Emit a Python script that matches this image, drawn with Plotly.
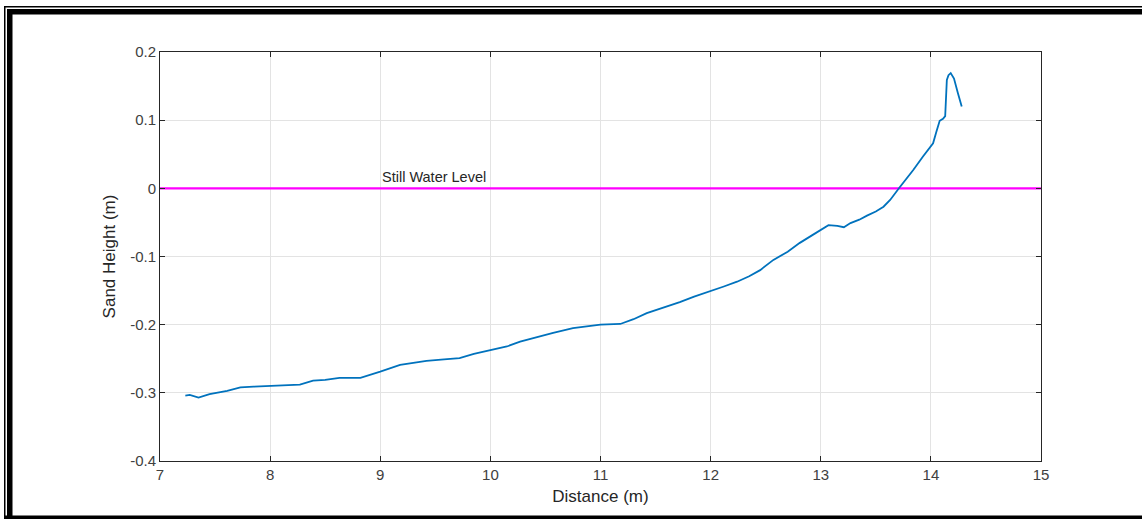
import plotly.graph_objects as go

# Profile data
distance_m = [7.23, 7.27, 7.35, 7.45, 7.61, 7.73, 7.85, 8.0, 8.15, 8.27, 8.39, 8.5, 8.63,
              8.82, 9.0, 9.18, 9.3, 9.42, 9.58, 9.72, 9.85, 10.0, 10.15, 10.27, 10.44,
              10.57, 10.75, 10.9, 11.0, 11.18, 11.3, 11.42, 11.58, 11.72, 11.85, 12.0,
              12.12, 12.24, 12.35, 12.45, 12.57, 12.7, 12.81, 12.92, 13.01, 13.07, 13.15,
              13.21, 13.27, 13.35, 13.42, 13.5, 13.57, 13.63, 13.71, 13.77, 13.84, 13.93,
              14.02, 14.05, 14.08, 14.11, 14.13, 14.145, 14.16, 14.18, 14.21, 14.245, 14.28]
sand_height_m = [-0.304, -0.303, -0.307, -0.302, -0.297, -0.292, -0.291, -0.290, -0.289,
                 -0.288, -0.282, -0.281, -0.278, -0.278, -0.269, -0.259, -0.256, -0.253,
                 -0.251, -0.249, -0.243, -0.238, -0.232, -0.225, -0.217, -0.212, -0.205,
                 -0.202, -0.200, -0.199, -0.192, -0.183, -0.175, -0.167, -0.159, -0.151,
                 -0.144, -0.137, -0.129, -0.120, -0.105, -0.093, -0.080, -0.069, -0.060,
                 -0.054, -0.055, -0.057, -0.051, -0.046, -0.040, -0.034, -0.027, -0.017,
                 0.000, 0.012, 0.027, 0.047, 0.066, 0.083, 0.099, 0.102, 0.106, 0.159,
                 0.166, 0.169, 0.161, 0.140, 0.120]

swl_x = [7, 15]
swl_y = [0, 0]

x_ticks = [7, 8, 9, 10, 11, 12, 13, 14, 15]
y_ticks = [-0.4, -0.3, -0.2, -0.1, 0, 0.1, 0.2]
y_tick_text = ["-0.4", "-0.3", "-0.2", "-0.1", "0", "0.1", "0.2"]

W, H = 1142, 519
L, R, T, B = 160, 1041, 52, 461

fig = go.Figure()
fig.add_trace(go.Scatter(x=swl_x, y=swl_y, mode="lines",
                         line=dict(color="#FF00FF", width=2.2), hoverinfo="skip"))
fig.add_trace(go.Scatter(x=distance_m, y=sand_height_m, mode="lines",
                         line=dict(color="#0072BD", width=1.8)))

fig.add_annotation(x=9.0, y=0.0163, text="Still Water Level", showarrow=False,
                   xanchor="left", yanchor="middle",
                   font=dict(family="Liberation Sans, Arial", size=14.5, color="#262626"))


def px_x(p):
    return (p - L) / (R - L)


def px_y(p):
    return (B - p) / (B - T)


border = [
    (4, 6, W, 7.5),      # thin top
    (7, 9, W, 14.5),     # thick top
    (4, 6, 5.5, H),      # thin left
    (7, 9, 12.5, H),     # thick left
    (4, 515.5, W, H),    # bottom
]
for x0, y0, x1, y1 in border:
    fig.add_shape(type="rect", xref="paper", yref="paper",
                  x0=px_x(x0), x1=px_x(x1), y0=px_y(y1), y1=px_y(y0),
                  line=dict(width=0), fillcolor="black", layer="above")

axis_common = dict(
    showgrid=True, gridcolor="#E3E3E3", gridwidth=1,
    showline=True, linecolor="#262626", linewidth=1, mirror="ticks",
    ticks="inside", ticklen=5, tickcolor="#262626",
    zeroline=False,
    tickfont=dict(family="Liberation Sans, Arial", size=15, color="#404040"),
)

fig.update_xaxes(range=[7, 15], tickvals=x_ticks,
                 title=dict(text="Distance (m)", standoff=8,
                            font=dict(family="Liberation Sans, Arial", size=17, color="#262626")),
                 **axis_common)
fig.update_yaxes(range=[-0.4, 0.2], tickvals=y_ticks, ticktext=y_tick_text,
                 title=dict(text="Sand Height (m)", standoff=10,
                            font=dict(family="Liberation Sans, Arial", size=17, color="#262626")),
                 **axis_common)

fig.update_layout(
    width=W, height=H,
    margin=dict(l=L, r=W - R, t=T, b=H - B),
    plot_bgcolor="white", paper_bgcolor="white",
    showlegend=False,
)

fig.write_html("out.html")
